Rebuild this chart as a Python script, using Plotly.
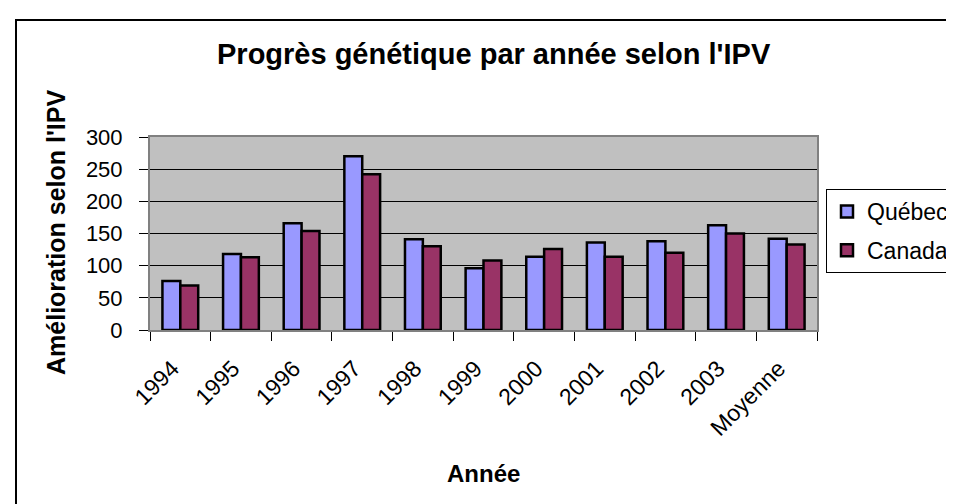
import plotly.graph_objects as go

categories = ["1994", "1995", "1996", "1997", "1998", "1999", "2000", "2001", "2002", "2003", "Moyenne"]
quebec = [76, 118, 166, 270, 141, 96, 114, 136, 138, 163, 142]
canada = [69, 113, 154, 242, 130, 108, 126, 114, 120, 150, 133]
y_ticks = [0, 50, 100, 150, 200, 250, 300]

FONT = "Arial, Liberation Sans, sans-serif"

fig = go.Figure()
fig.add_trace(go.Bar(x=categories, y=quebec, name="Québec", legendgroup="q",
                     marker=dict(color="#9999FF", line=dict(color="black", width=2.5))))
fig.add_trace(go.Bar(x=categories, y=canada, name="Canada", legendgroup="c",
                     marker=dict(color="#993366", line=dict(color="black", width=2.5))))

L, R, T, B = 142, 809, 129, 322
W, H = 954, 504
pw, ph = R - L, B - T

def px(x):
    return (x - L) / pw

def py(y):
    return (B - y) / ph

fig.update_layout(
    width=W, height=H,
    margin=dict(l=L, r=W - R, t=T, b=H - B, pad=0, autoexpand=False),
    paper_bgcolor="white",
    plot_bgcolor="#C0C0C0",
    barmode="group",
    bargap=0.41,
    bargroupgap=0,
    font=dict(family=FONT, size=22, color="black"),
    showlegend=True,
    legend=dict(x=px(818), y=py(181), xanchor="left", yanchor="top",
                bgcolor="white", bordercolor="black", borderwidth=1,
                font=dict(family=FONT, size=23, color="black"),
                traceorder="grouped", tracegroupgap=6, itemwidth=30),
    xaxis=dict(type="category", tickson="boundaries", ticks="outside", ticklen=9,
               tickcolor="black", tickwidth=1, tickangle=-45, showgrid=False,
               showline=True, linecolor="#808080", linewidth=2, mirror=True,
               ticklabelstandoff=14, ticklabelshift=-8,
               tickfont=dict(family=FONT, size=23, color="black")),
    yaxis=dict(range=[0, 300], tickvals=y_ticks, ticks="outside", ticklen=9,
               tickcolor="black", tickwidth=1, showgrid=True, gridcolor="black",
               gridwidth=1, showline=True, linecolor="#808080", linewidth=2, mirror=True,
               zeroline=False, ticklabelstandoff=12,
               tickfont=dict(family=FONT, size=22, color="black")),
    shapes=[dict(type="rect", xref="paper", yref="paper",
                 x0=px(8), x1=px(970), y0=py(520), y1=py(12),
                 line=dict(color="black", width=2), fillcolor="rgba(0,0,0,0)", layer="below")],
    annotations=[
        dict(text="<b>Progrès génétique par année selon l'IPV</b>", xref="paper", yref="paper",
             x=px(486), y=py(46), showarrow=False, xanchor="center", yanchor="middle",
             font=dict(family=FONT, size=29, color="black")),
        dict(text="<b>Amélioration selon l'IPV</b>", xref="paper", yref="paper",
             x=px(48), y=py(225), showarrow=False, textangle=-90, xanchor="center", yanchor="middle",
             font=dict(family=FONT, size=25, color="black")),
        dict(text="<b>Année</b>", xref="paper", yref="paper",
             x=px(475), y=py(465), showarrow=False, xanchor="center", yanchor="middle",
             font=dict(family=FONT, size=24, color="black")),
    ],
)

fig.write_html("out.html")
